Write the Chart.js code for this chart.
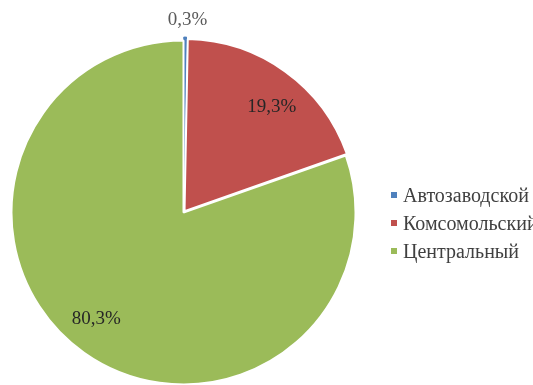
<!DOCTYPE html>
<html>
<head>
<meta charset="utf-8">
<script src="https://cdn.jsdelivr.net/npm/chart.js@4/dist/chart.umd.min.js"></script>
<style>
  html, body { margin: 0; padding: 0; background: #fff; }
  #wrap { position: relative; width: 533px; height: 385px; overflow: hidden; }
  #legend { position: absolute; left: 391px; top: 181px; font-family: 'Liberation Serif', serif; font-size: 20px; color: #404040; white-space: nowrap; }
  #legend .row { height: 28px; line-height: 28px; }
  #legend .box { display: inline-block; width: 6px; height: 6px; margin-right: 6px; vertical-align: middle; position: relative; top: -2px; }
</style>
</head>
<body>
<div id="wrap">
  <canvas id="c" width="533" height="385"></canvas>
  <div id="legend"></div>
</div>
<script>
const categories = ["Автозаводской", "Комсомольский", "Центральный"];
const shares = [0.3, 19.3, 80.3];
const valueLabels = ["0,3%", "19,3%", "80,3%"];
const sliceColors = ["#4F81BD", "#C0504D", "#9BBB59"];

// legend (HTML, real text)
const leg = document.getElementById('legend');
categories.forEach((name, i) => {
  const row = document.createElement('div');
  row.className = 'row';
  const box = document.createElement('span');
  box.className = 'box';
  box.style.background = sliceColors[i];
  row.appendChild(box);
  row.appendChild(document.createTextNode(name));
  leg.appendChild(row);
});

const labelPlugin = {
  id: 'sliceLabels',
  afterDatasetsDraw(chart) {
    const ctx = chart.ctx;
    const meta = chart.getDatasetMeta(0);
    const shift = 4 * Math.PI / 180;
    ctx.save();
    ctx.font = "19px 'Liberation Serif', serif";
    ctx.textAlign = 'center';
    ctx.textBaseline = 'middle';
    meta.data.forEach((arc, i) => {
      const p = arc.getProps(['x', 'y', 'startAngle', 'endAngle', 'outerRadius'], true);
      let mid = (p.startAngle + p.endAngle) / 2;
      let r, color;
      if (shares[i] < 2) { r = p.outerRadius + 21; color = '#595959'; mid += 0.012; }
      else { r = p.outerRadius * 0.8; color = '#262626'; mid += shift; }
      const lx = p.x + Math.cos(mid) * r;
      const ly = p.y + Math.sin(mid) * r;
      ctx.fillStyle = color;
      ctx.fillText(valueLabels[i], lx, ly);
    });
    ctx.restore();
  }
};

new Chart(document.getElementById('c'), {
  type: 'pie',
  data: {
    labels: categories,
    datasets: [{
      data: shares,
      backgroundColor: sliceColors,
      borderColor: ['#4F81BD', '#ffffff', '#ffffff'],
      borderWidth: [1, 2, 2],
      offset: [7, 7, 0],
      radius: 172,
      clip: false
    }]
  },
  options: {
    responsive: false,
    animation: false,
    events: [],
    layout: { padding: { left: 0, right: 166, top: 40, bottom: 0 } },
    plugins: { legend: { display: false }, tooltip: { enabled: false } }
  },
  plugins: [labelPlugin]
});
</script>
</body>
</html>
